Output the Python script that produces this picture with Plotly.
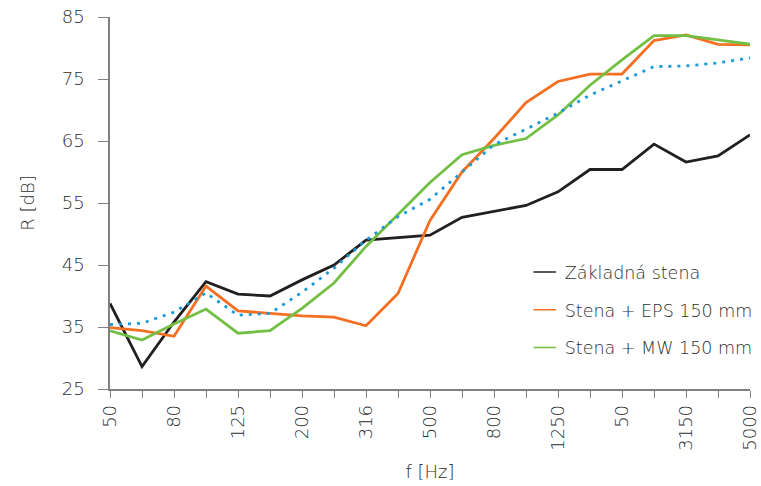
import plotly.graph_objects as go

freqs = ["50", "63", "80", "100", "125", "160", "200", "250", "316", "400", "500",
         "630", "800", "1000", "1250", "1600", "2000", "2500", "3150", "4000", "5000"]
tick_labels = ["50", "", "80", "", "125", "", "200", "", "316", "", "500",
               "", "800", "", "1250", "", "50", "", "3150", "", "5000"]

zakladna = [38.8, 28.6, 35.8, 42.3, 40.3, 40.0, 42.6, 45.0, 49.0, 49.4, 49.8,
            52.7, 53.7, 54.6, 56.8, 60.4, 60.4, 64.5, 61.6, 62.6, 66.0]
eps = [34.9, 34.4, 33.5, 41.6, 37.6, 37.2, 36.8, 36.6, 35.2, 40.4, 52.2,
       60.0, 65.4, 71.2, 74.6, 75.8, 75.8, 81.2, 82.1, 80.6, 80.5]
mw = [34.4, 32.9, 35.5, 37.9, 34.0, 34.4, 38.0, 42.1, 48.0, 53.1, 58.3,
      62.8, 64.3, 65.4, 69.2, 74.0, 78.1, 82.0, 82.0, 81.3, 80.6]
ref_curve = [35.4, 35.6, 37.4, 40.5, 36.9, 37.2, 40.6, 44.5, 49.0, 52.8, 55.6,
             60.0, 64.4, 66.9, 69.5, 72.4, 74.7, 77.0, 77.1, 77.6, 78.4]

names = ["Základná stena", "Stena + EPS 150 mm", "Stena + MW 150 mm"]
colors = ["#231f20", "#f36f21", "#72bf44"]
blue = "#1b9ad8"

xi = list(range(len(freqs)))
FONT = "'DejaVu Sans', sans-serif"
TXT = "#2e2e2e"
FW = 200

fig = go.Figure()
for series, col in zip([zakladna, eps, mw], colors):
    fig.add_trace(go.Scatter(x=xi, y=series, mode="lines",
                             line=dict(color=col, width=2.8),
                             showlegend=False, hoverinfo="skip"))
fig.add_trace(go.Scatter(x=xi, y=ref_curve, mode="lines",
                         line=dict(color=blue, width=2.8, dash="3px,6px"),
                         showlegend=False, hoverinfo="skip"))
# legend entries (short dash symbols)
for k, (name, col) in enumerate(zip(names, colors)):
    fig.add_trace(go.Scatter(x=[None], y=[None], mode="markers", name=name,
                             legendgroup=f"g{k}",
                             marker=dict(symbol="line-ew-open", size=17, color=col,
                                         line=dict(color=col, width=1.3))))

fig.update_layout(
    width=761, height=486, autosize=False,
    margin=dict(l=110, r=11, t=17, b=97, autoexpand=False),
    paper_bgcolor="white", plot_bgcolor="white",
    font=dict(family=FONT, size=18, color=TXT, weight=FW),
    legend=dict(x=0.648, y=0.212, xanchor="left", yanchor="middle",
                font=dict(size=17.5, color=TXT, weight=FW), itemwidth=30,
                tracegroupgap=12, bgcolor="rgba(0,0,0,0)"),
    xaxis=dict(range=[0, 20], tickmode="array", tickvals=xi, ticktext=tick_labels,
               tickangle=-90, ticks="outside", ticklen=7, tickcolor="#808080",
               showline=True, linecolor="#808080", linewidth=1.5,
               showgrid=False, zeroline=False, automargin=False,
               title=dict(text="f [Hz]", standoff=16, font=dict(size=18, weight=FW)),
               tickfont=dict(size=18, color=TXT, weight=FW)),
    yaxis=dict(range=[25, 85], dtick=10, tick0=25, ticks="outside", ticklen=10,
               tickcolor="#808080", showline=True, linecolor="#808080",
               linewidth=1.5, showgrid=False, zeroline=False, automargin=False,
               ticklabelstandoff=10,
               title=dict(text="R [dB]", standoff=22, font=dict(size=18, weight=FW)),
               tickfont=dict(size=18, color=TXT, weight=FW)),
)
fig.update_traces(cliponaxis=False)

post = ("document.documentElement.style.margin='0';"
        "document.documentElement.style.overflow='hidden';"
        "document.body.style.margin='0';document.body.style.padding='0';"
        "document.body.style.overflow='hidden';")

fig.write_html("out.html", config={"responsive": False, "displayModeBar": False},
               default_width="761px", default_height="486px", post_script=post)
